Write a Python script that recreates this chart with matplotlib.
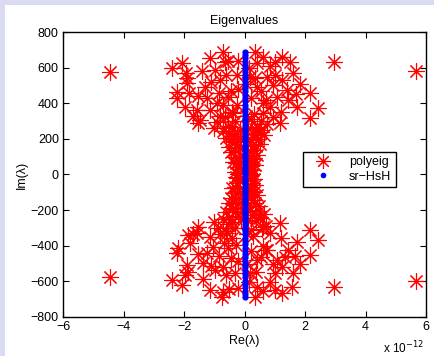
import matplotlib.pyplot as plt
from matplotlib.patches import Rectangle

plt.rcParams['font.family'] = ['Liberation Sans', 'DejaVu Sans']

# polyeig eigenvalues: real part (units of 1e-12), imaginary part
# upper half plane
poly_re_up = [-4.45, -2.41, -2.08, -1.93, -1.89, -2.24, -2.24, -1.82, -1.97, -1.58,
              -1.47, -1.53, -1.31, -1.14, -0.70, -0.64, -0.98, -0.81, -0.26, -0.54,
              -0.92, -1.14, -0.38, 0.35, 0.40, 0.18, 0.40, 0.73, 1.01, 1.23,
              1.50, 1.61, 1.23, 1.40, 1.06, 0.84, 0.62, 0.95, 1.17, 1.73,
              2.17, 2.17, 2.44, 0.51, 0.29, 0.40, 2.96, 5.67,
              -0.30, 0.28, -0.22, 0.35, -0.38, 0.25, -0.30, 0.40, -0.45, 0.30,
              -0.50, 0.50, -0.35, 0.20, -0.60, 0.65, -0.25, -0.70, 0.10, -0.55,
              0.75, -0.90, 0.20, -0.15, 0.10, 0.05, -0.10,
              -0.45, -0.25, 0.20, -0.80, 0.55, -1.25, -0.20, 0.15, -1.55, 1.85,
              0.85, -0.85, 0.95, -0.60, 0.60, -1.00, 1.20, -0.40, 1.45, -1.70,
              0.15, -0.12, 0.22, -0.28, 0.12, -0.18, 0.30, -0.05, 0.18, -0.30,
              0.38, -0.20, 0.10, -0.45, 0.45, -0.35, 0.28, -0.50, 0.55, -0.15,
              0.35, -0.40, 0.55, -0.65, 0.05, -0.30, 0.30, 0.25, -0.20,
              -0.20, 0.35, -1.10, 0.70, -0.70, 1.00, -1.40, 0.05, -0.55, 0.60,
              1.70, -1.90]
poly_im_up = [577, 596, 624, 568, 512, 465, 428, 456, 381, 362,
              306, 287, 493, 652, 689, 633, 587, 531, 559, 437,
              400, 362, 345, 689, 624, 549, 493, 549, 633, 661,
              633, 568, 531, 474, 437, 381, 344, 324, 287, 381,
              456, 316, 372, 250, 212, 268, 632, 581,
              15, 25, 40, 55, 70, 85, 100, 110, 125, 140,
              155, 170, 185, 195, 205, 220, 230, 245, 260, 275,
              285, 295, 310, 150, 60, 120, 200,
              470, 390, 430, 330, 470, 430, 640, 600, 440, 510,
              610, 460, 500, 560, 400, 260, 350, 350, 420, 330,
              10, 30, 45, 65, 75, 90, 95, 105, 130, 135,
              160, 165, 180, 190, 200, 215, 225, 235, 240, 250,
              255, 265, 300, 320, 330, 300, 340, 5, 2,
              480, 540, 520, 420, 390, 560, 580, 510, 640, 660,
              450, 540]

# lower half plane
poly_re_lo = [-4.45, -2.41, -2.08, -1.97, -1.89, -2.24, -2.19, -1.80, -1.86, -1.53,
              -1.58, -1.36, -1.14, -0.70, -0.75, -0.98, -0.70, -0.31, -0.54, -1.03,
              -1.14, -0.59, 0.35, 0.40, 0.18, 0.40, 0.73, 1.01, 1.23, 1.56,
              1.61, 1.23, 1.34, 1.06, 0.84, 0.62, 1.17, 1.73, 2.17, 2.17,
              2.44, 0.51, 2.96, 5.67,
              -0.28, 0.30, -0.25, 0.35, -0.40, 0.22, -0.32, 0.42, -0.45, 0.28,
              -0.52, 0.48, -0.38, 0.18, -0.62, 0.63, -0.22, -0.72, 0.12, -0.55,
              0.72, -0.88, 0.22, -0.12, 0.08, 0.05, -0.08,
              -0.45, -0.28, 0.22, -0.82, 0.55, -1.25, -0.20, 0.15, -1.55, 1.85,
              0.85, -0.85, 0.95, -0.60, 0.60, -1.00, 1.20, -0.40, 1.45, -1.70,
              0.18, -0.15, 0.25, -0.30, 0.10, -0.20, 0.32, -0.08, 0.20, -0.28,
              0.36, -0.22, 0.12, -0.42, 0.47, -0.33, 0.26, -0.52, 0.52, -0.12,
              0.38, -0.42, 0.58, -0.62, 0.08, -0.32, 0.28, 0.22, -0.25,
              -0.22, 0.38, -1.12, 0.72, -0.68, 1.02, -1.38, 0.08, -0.52, 0.62,
              1.68, -1.88]
poly_im_lo = [-577, -592, -620, -564, -508, -442, -414, -386, -340, -293,
              -330, -499, -648, -658, -686, -536, -518, -555, -414, -405,
              -349, -330, -686, -630, -555, -480, -424, -648, -667, -630,
              -555, -518, -461, -480, -330, -293, -274, -377, -312, -452,
              -368, -237, -632, -598,
              -12, -28, -45, -60, -75, -90, -105, -115, -130, -145,
              -160, -175, -188, -198, -210, -222, -235, -248, -262, -278,
              -290, -300, -312, -155, -65, -118, -205,
              -470, -395, -430, -335, -465, -440, -640, -605, -445, -505,
              -605, -460, -500, -565, -400, -265, -355, -355, -425, -335,
              -8, -33, -50, -68, -80, -95, -98, -108, -128, -138,
              -158, -168, -182, -192, -203, -213, -228, -238, -243, -252,
              -258, -268, -305, -318, -335, -298, -345, -4, -20,
              -485, -545, -515, -425, -385, -555, -585, -505, -645, -655,
              -455, -545]

# sr-HsH eigenvalues (purely imaginary)
hsh_im = [0, 18, 37, 55, 74, 92, 111, 130, 148, 167, 186, 204, 223, 242, 260,
          279, 298, 316, 335, 354, 372, 391, 410, 428, 447, 466, 484, 503, 522,
          540, 559, 578, 596, 615, 634, 652, 671, 688,
          -18, -37, -55, -74, -92, -111, -130, -148, -167, -186, -204, -223,
          -242, -260, -279, -298, -316, -335, -354, -372, -391, -410, -428,
          -447, -466, -484, -503, -522, -540, -559, -578, -596, -615, -634,
          -652, -671, -688]
hsh_re = [0.0] * len(hsh_im)

fig = plt.figure(figsize=(4.34, 3.56), dpi=100, facecolor='#dadaf5')
fig.patches.append(Rectangle((5 / 434, 0), 1, 1 - 5 / 356, transform=fig.transFigure,
                             facecolor='white', edgecolor='none', zorder=-10))
ax = fig.add_axes([0.1452, 0.1096, 0.8364, 0.8005])

star = (8, 2, 0)
ax.plot(poly_re_up + poly_re_lo, poly_im_up + poly_im_lo, linestyle='none',
        marker=star, markersize=12, markeredgewidth=0.8, color='red', label='polyeig')
ax.plot(hsh_re, hsh_im, linestyle='none', marker='o', markersize=4.5,
        markeredgewidth=0, color='blue', label='sr\u2212HsH')

ax.set_xlim(-6, 6)
ax.set_ylim(-800, 800)
ax.set_xticks(range(-6, 7, 2))
ax.set_yticks(range(-800, 801, 200))
ax.tick_params(direction='in', top=True, right=True, labelsize=9, length=4, pad=3)
for s in ax.spines.values():
    s.set_linewidth(1)

ax.set_title('Eigenvalues', fontsize=9, pad=6)
ax.set_xlabel('Re(\u03bb)', fontsize=9, labelpad=1)
ax.set_ylabel('Im(\u03bb)', fontsize=9, labelpad=2)
ax.text(0.995, -0.078, 'x 10$^{-12}$', transform=ax.transAxes, ha='right', va='top',
        fontsize=8.5)

ax.legend(loc='upper left', bbox_to_anchor=(0.662, 0.579), fontsize=9, frameon=True,
          fancybox=False, edgecolor='black', framealpha=1, borderpad=0.35,
          borderaxespad=0, handletextpad=0.9, handlelength=2.4, labelspacing=0.2,
          markerscale=0.9)

fig.savefig('out.png', dpi=100, facecolor=fig.get_facecolor())
